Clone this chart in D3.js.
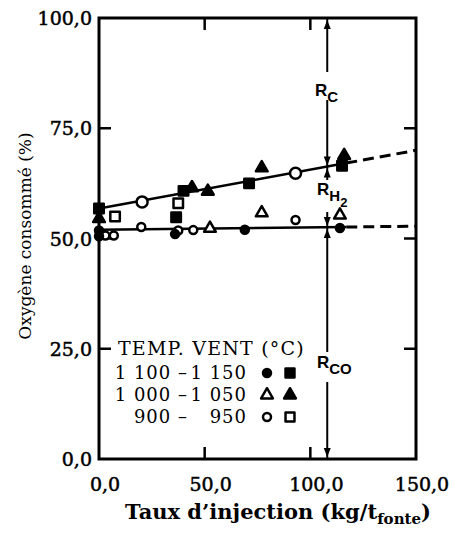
<!DOCTYPE html>
<html lang="fr">
<head>
<meta charset="utf-8">
<title>Oxygène consommé</title>
<script src="https://cdn.jsdelivr.net/npm/d3@7"></script>
<style>
body { margin: 0; background: #fff; }
svg { display: block; }
.serif { font-family: "DejaVu Serif", serif; fill: #000; }
.sans { font-family: "Liberation Sans", Arial, sans-serif; font-weight: bold; fill: #000; }
</style>
</head>
<body>
<div id="chart"></div>
<script>

// Points: [taux d'injection (kg/t), oxygène consommé (%)]
var filledCircle = [[0, 51.8], [0, 50.5], [36, 51.0], [69, 52.0], [114, 52.4]];
var filledSquare = [[0, 56.8], [36.5, 54.8], [40, 60.8], [71, 62.5], [115, 66.5]];
var openTriangle = [[52.5, 52.3], [77, 55.8], [114, 55.3]];
var filledTriangle = [[0, 54.5], [44, 61.5], [51.5, 60.7], [77, 66.0], [116, 68.8]];
var openCircle = [[3, 50.7], [7, 50.7], [20, 52.6], [37.5, 51.8], [44.6, 51.9], [93, 54.2]];
var openSquare = [[7.6, 55.0], [37.5, 58.0]];
var openCircleBig = [[20.4, 58.3], [93, 64.8]];

// Fitted lines (solid part then dashed extrapolation)
var upperSolid = [[0, 56.8], [117, 67.1]];
var upperDashed = [[117, 67.1], [150, 70.0]];
var lowerSolid = [[0, 52.0], [117, 52.6]];
var lowerDashed = [[117, 52.6], [150, 52.8]];

var xTicks = [0, 50, 100, 150];
var yTicks = [0, 25, 50, 75, 100];
var legendTitle = "TEMP. VENT (°C)";
var legendLeft = ["1 100 –", "1 000 –", "900 –"];
var legendRight = ["1 150", "1 050", "950"];

// injection rate where R_C, R_H2 and R_CO are marked
var markX = 108;

var width = 454, height = 534;
var x = d3.scaleLinear().domain([0, 150]).range([99, 416]);
var y = d3.scaleLinear().domain([0, 100]).range([459, 18]);
var fmt = function(v){ return d3.format(".1f")(v).replace(".", ","); };

var svg = d3.select("#chart").append("svg")
	.attr("width", width)
	.attr("height", height);

// frame
svg.append("rect")
	.attr("x", x(0)).attr("y", y(100))
	.attr("width", x(150) - x(0)).attr("height", y(0) - y(100))
	.attr("fill", "none").attr("stroke", "#000").attr("stroke-width", 3);

// inward ticks on all four sides
var tickLen = 12;
xTicks.slice(1, 3).forEach(function(t){
	svg.append("line").attr("x1", x(t)).attr("x2", x(t))
		.attr("y1", y(0)).attr("y2", y(0) - tickLen)
		.attr("stroke", "#000").attr("stroke-width", 2.5);
	svg.append("line").attr("x1", x(t)).attr("x2", x(t))
		.attr("y1", y(100)).attr("y2", y(100) + tickLen)
		.attr("stroke", "#000").attr("stroke-width", 2.5);
});
yTicks.slice(1, 4).forEach(function(t){
	svg.append("line").attr("x1", x(0)).attr("x2", x(0) + tickLen)
		.attr("y1", y(t)).attr("y2", y(t))
		.attr("stroke", "#000").attr("stroke-width", 2.5);
	svg.append("line").attr("x1", x(150)).attr("x2", x(150) - tickLen)
		.attr("y1", y(t)).attr("y2", y(t))
		.attr("stroke", "#000").attr("stroke-width", 2.5);
});

// tick labels (slightly thickened like the scan)
svg.selectAll(".xlab").data(xTicks).enter().append("text")
	.attr("class", "serif")
	.attr("x", function(d){ return x(d) + 6; })
	.attr("y", 491)
	.attr("text-anchor", "middle")
	.attr("stroke", "#000").attr("stroke-width", 0.5)
	.style("font-size", "19px")
	.text(fmt);

svg.selectAll(".ylab").data(yTicks).enter().append("text")
	.attr("class", "serif")
	.attr("x", 92)
	.attr("y", function(d){ return y(d) + 7; })
	.attr("text-anchor", "end")
	.attr("stroke", "#000").attr("stroke-width", 0.5)
	.style("font-size", "19px")
	.text(fmt);

// axis titles
svg.append("text")
	.attr("class", "serif")
	.attr("transform", "translate(31, 236) rotate(-90)")
	.attr("text-anchor", "middle")
	.style("font-size", "17px")
	.text("Oxygène consommé (%)");

var xt = svg.append("text")
	.attr("class", "serif")
	.attr("x", 278).attr("y", 519)
	.attr("text-anchor", "middle")
	.style("font-size", "21px")
	.style("font-weight", "bold");
xt.append("tspan").text("Taux d’injection (kg/t");
xt.append("tspan").attr("dy", 5).style("font-size", "15px").text("fonte");
xt.append("tspan").attr("dy", -5).text(")");

// fitted lines
var line = d3.line()
	.x(function(d){ return x(d[0]); })
	.y(function(d){ return y(d[1]); });

[upperSolid, lowerSolid].forEach(function(seg){
	svg.append("path").datum(seg).attr("d", line)
		.attr("fill", "none").attr("stroke", "#000").attr("stroke-width", 2.5);
});
[upperDashed, lowerDashed].forEach(function(seg){
	svg.append("path").datum(seg).attr("d", line)
		.attr("fill", "none").attr("stroke", "#000").attr("stroke-width", 3)
		.attr("stroke-dasharray", "11,6");
});

// vertical marker with arrows
var vx = x(markX);
var upY = y(66.3), lowY = y(52.6);
var vSegs = [[y(100), 72], [100, upY], [upY, 180], [212, lowY], [lowY, 352], [382, y(0)]];
vSegs.forEach(function(s){
	svg.append("line").attr("x1", vx).attr("x2", vx)
		.attr("y1", s[0]).attr("y2", s[1])
		.attr("stroke", "#000").attr("stroke-width", 2);
});
function arrow(tipY, dir){
	// dir = 1 points down, -1 points up
	svg.append("path")
		.attr("d", "M" + vx + "," + tipY + " l-3.5," + (-9 * dir) + " l7,0 z")
		.attr("fill", "#000");
}
arrow(y(100) + 2, -1);
arrow(upY - 1, 1);
arrow(upY + 2, -1);
arrow(lowY - 1, 1);
arrow(lowY + 2, -1);
arrow(y(0) - 2, 1);

function rLabel(lx, ly, sub, sub2){
	var t = svg.append("text").attr("class", "sans")
		.attr("x", lx).attr("y", ly)
		.style("font-size", "17px");
	t.append("tspan").text("R");
	t.append("tspan").attr("dy", 6).style("font-size", "15px").text(sub);
	if (sub2) t.append("tspan").attr("dy", 6).style("font-size", "13px").text(sub2);
}
rLabel(315, 96, "C");
rLabel(317, 195, "H", "2");
rLabel(317, 368, "CO");

// markers
var symFilledSq = d3.symbol().type(d3.symbolSquare).size(90);
var symTri = d3.symbol().type(d3.symbolTriangle).size(60);

function drawCircles(data, r, filled){
	svg.selectAll(null).data(data).enter().append("circle")
		.attr("cx", function(d){ return x(d[0]); })
		.attr("cy", function(d){ return y(d[1]); })
		.attr("r", r)
		.attr("fill", filled ? "#000" : "#fff")
		.attr("stroke", "#000").attr("stroke-width", 2.5);
}
function drawSymbols(data, sym, filled){
	svg.selectAll(null).data(data).enter().append("path")
		.attr("d", sym)
		.attr("transform", function(d){ return "translate(" + x(d[0]) + "," + y(d[1]) + ")"; })
		.attr("fill", filled ? "#000" : "#fff")
		.attr("stroke", "#000").attr("stroke-width", 2.5)
		.attr("stroke-linejoin", "round");
}
drawCircles(openCircleBig, 5.5, false);
drawSymbols(openSquare, symFilledSq, false);
drawSymbols(filledSquare, symFilledSq, true);
drawSymbols(filledTriangle, symTri, true);
drawSymbols(openTriangle, symTri, false);
drawCircles(openCircle, 4, false);
drawCircles(filledCircle, 4, true);

// legend
svg.append("text").attr("class", "serif")
	.attr("x", 118).attr("y", 355)
	.style("font-size", "19px")
	.style("letter-spacing", "1.2px")
	.text(legendTitle);

var rowY = [379, 401, 423];
legendLeft.forEach(function(s, i){
	// one text per row: two anchored chunks
	var row = svg.append("text").attr("class", "serif")
		.attr("y", rowY[i])
		.attr("text-anchor", "end")
		.style("font-size", "18px")
		.style("letter-spacing", "1px");
	row.append("tspan").attr("x", 188).text(s);
	row.append("tspan").attr("x", 247).text(legendRight[i]);
});
var c1 = 267, c2 = 290;
var legSym = [
	[c1, rowY[0] - 6, "circle", true], [c2, rowY[0] - 6, d3.symbolSquare, true],
	[c1, rowY[1] - 6, d3.symbolTriangle, false], [c2, rowY[1] - 6, d3.symbolTriangle, true],
	[c1, rowY[2] - 6, "circle", false], [c2, rowY[2] - 6, d3.symbolSquare, false]
];
legSym.forEach(function(s){
	if (s[2] === "circle") {
		svg.append("circle").attr("cx", s[0]).attr("cy", s[1]).attr("r", 4)
			.attr("fill", s[3] ? "#000" : "#fff").attr("stroke", "#000").attr("stroke-width", 2.5);
	} else {
		svg.append("path")
			.attr("d", d3.symbol().type(s[2]).size(s[2] === d3.symbolSquare ? 80 : 60))
			.attr("transform", "translate(" + s[0] + "," + s[1] + ")")
			.attr("fill", s[3] ? "#000" : "#fff").attr("stroke", "#000").attr("stroke-width", 2.5)
			.attr("stroke-linejoin", "round");
	}
});

</script>
</body>
</html>
